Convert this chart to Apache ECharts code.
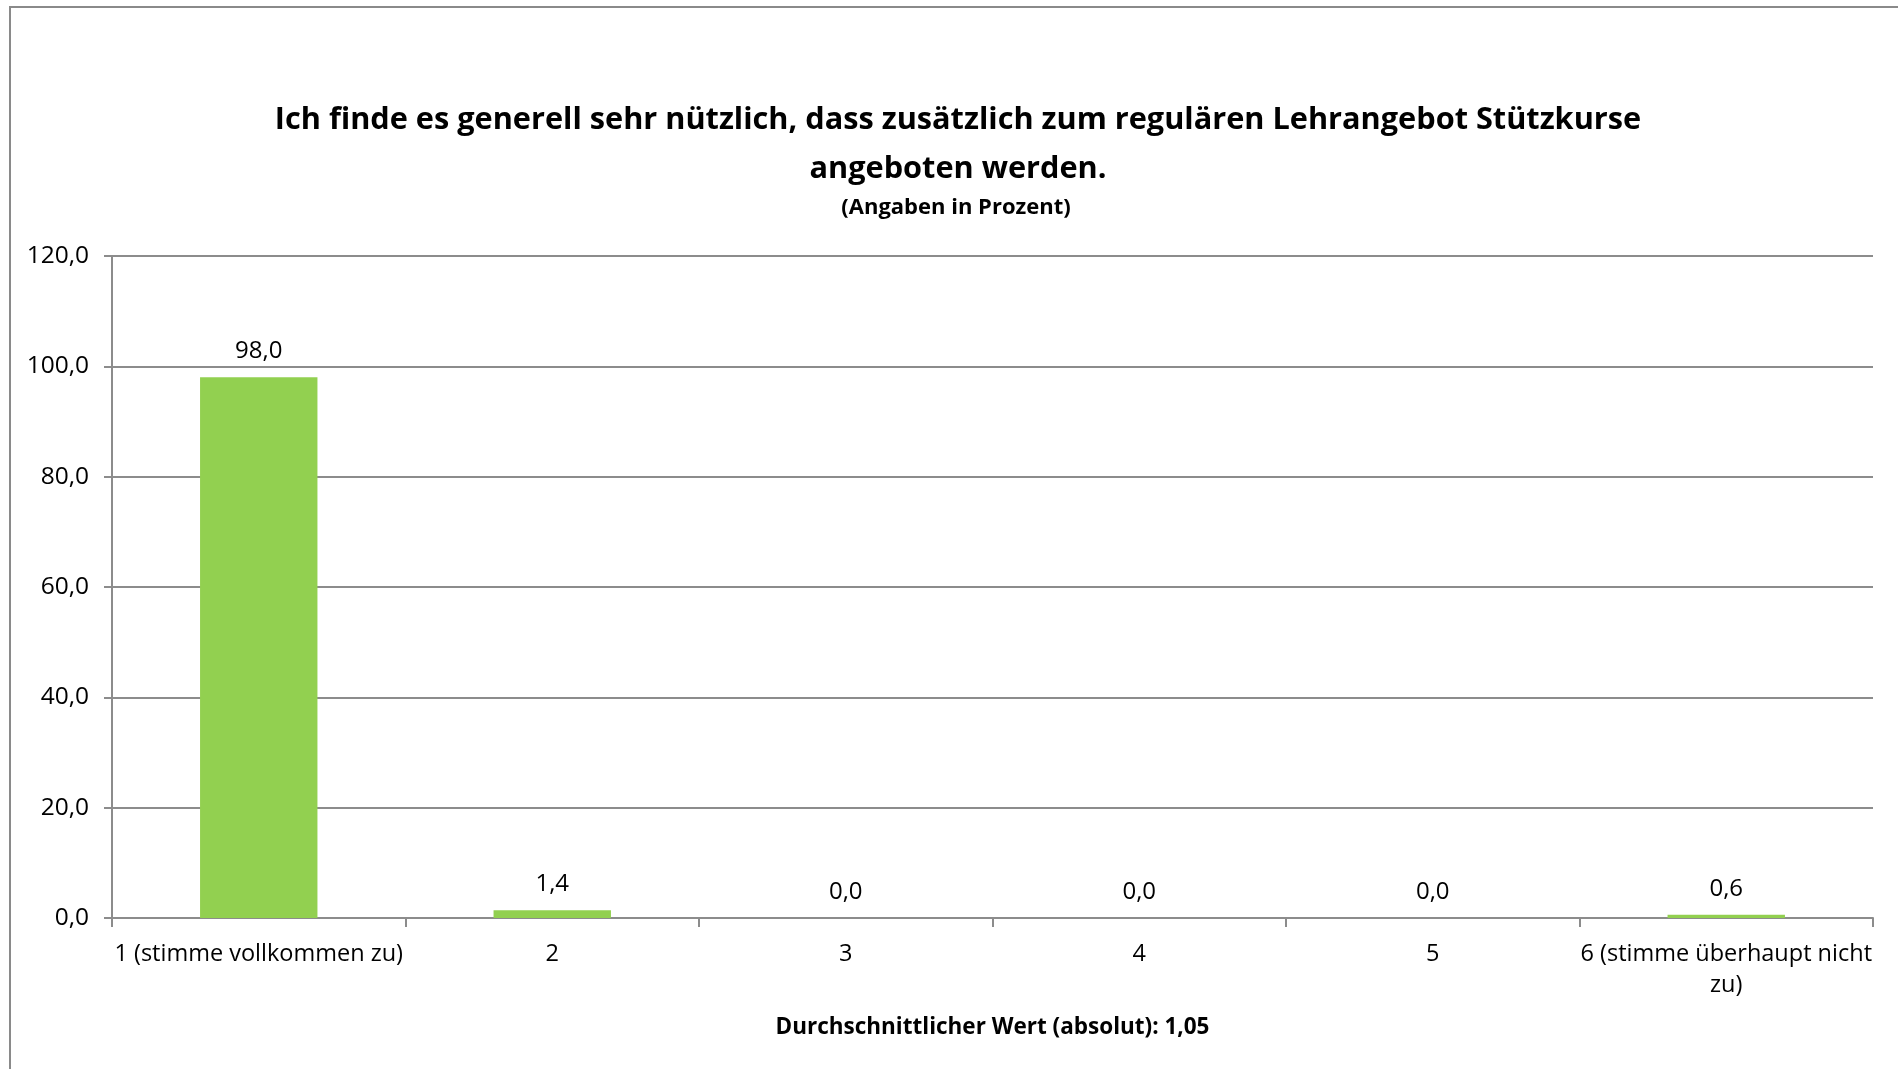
<!DOCTYPE html>
<html>
<head>
<meta charset="utf-8">
<script src="https://cdn.jsdelivr.net/npm/echarts@6/dist/echarts.min.js"></script>
<style>
  html, body { margin: 0; padding: 0; background: #ffffff; }
  #chart { width: 1898px; height: 1069px; }
</style>
</head>
<body>
<div id="chart"></div>
<script>
// Daten aus der Grafik
const categories = [
  "1 (stimme vollkommen zu)",
  "2",
  "3",
  "4",
  "5",
  "6 (stimme überhaupt nicht\nzu)"
];
const percentValues = [98.0, 1.4, 0.0, 0.0, 0.0, 0.6];
const yMin = 0;
const yMax = 120;
const yStep = 20;
const titleText = "Ich finde es generell sehr nützlich, dass zusätzlich zum regulären Lehrangebot Stützkurse\nangeboten werden.";
const subTitleText = "(Angaben in Prozent)";
const averageText = "Durchschnittlicher Wert (absolut): 1,05";

// Zahl mit Komma formatieren
const fmt = (v) => Number(v).toFixed(1).replace(".", ",");

const chart = echarts.init(document.getElementById("chart"));
const font = "'Open Sans', 'Noto Sans', sans-serif";
const gray = "#8c8c8c";

const option = {
  backgroundColor: "#ffffff",
  animation: false,
  textStyle: { fontFamily: font },
  title: [
    {
      text: titleText,
      left: 958,
      top: 96,
      textAlign: "center",
      padding: 0,
      textStyle: {
        fontFamily: font,
        fontSize: 30.7,
        fontWeight: "bold",
        color: "#000000",
        lineHeight: 49
      }
    },
    {
      text: subTitleText,
      left: 956,
      top: 194,
      textAlign: "center",
      padding: 0,
      textStyle: {
        fontFamily: font,
        fontSize: 22,
        fontWeight: "bold",
        color: "#000000",
        lineHeight: 28
      }
    }
  ],
  graphic: [
    {
      // Rahmen
      type: "rect",
      silent: true,
      shape: { x: 10, y: 7, width: 1900, height: 1080 },
      style: { fill: "none", stroke: "#8a8a8a", lineWidth: 2 }
    }
  ],
  grid: {
    left: 112,
    right: 25,
    top: 256,
    bottom: 151,
    containLabel: false
  },
  xAxis: {
    type: "category",
    data: categories,
    name: averageText,
    nameLocation: "middle",
    nameGap: 98,
    nameTextStyle: {
      fontFamily: font,
      fontSize: 22.5,
      fontWeight: "bold",
      color: "#000000"
    },
    axisLine: { show: true, lineStyle: { color: gray, width: 2 } },
    axisTick: { show: true, length: 9, alignWithLabel: false, lineStyle: { color: gray, width: 2 } },
    axisLabel: {
      interval: 0,
      margin: 21,
      fontFamily: font,
      fontSize: 23.5,
      lineHeight: 31,
      color: "#000000"
    }
  },
  yAxis: {
    type: "value",
    min: yMin,
    max: yMax,
    interval: yStep,
    axisLine: { show: true, lineStyle: { color: gray, width: 2 } },
    axisTick: { show: true, length: 8, lineStyle: { color: gray, width: 2 } },
    splitLine: { show: true, lineStyle: { color: gray, width: 2 } },
    axisLabel: {
      margin: 23,
      fontFamily: font,
      fontSize: 24.5,
      color: "#000000",
      formatter: (v) => fmt(v)
    }
  },
  series: [
    {
      type: "bar",
      data: percentValues,
      barWidth: "40%",
      itemStyle: { color: "#92d050" },
      label: {
        show: true,
        position: "top",
        distance: 12,
        fontFamily: font,
        fontSize: 24,
        lineHeight: 28,
        color: "#000000",
        formatter: (p) => fmt(p.value)
      }
    }
  ]
};

chart.setOption(option);
</script>
</body>
</html>
